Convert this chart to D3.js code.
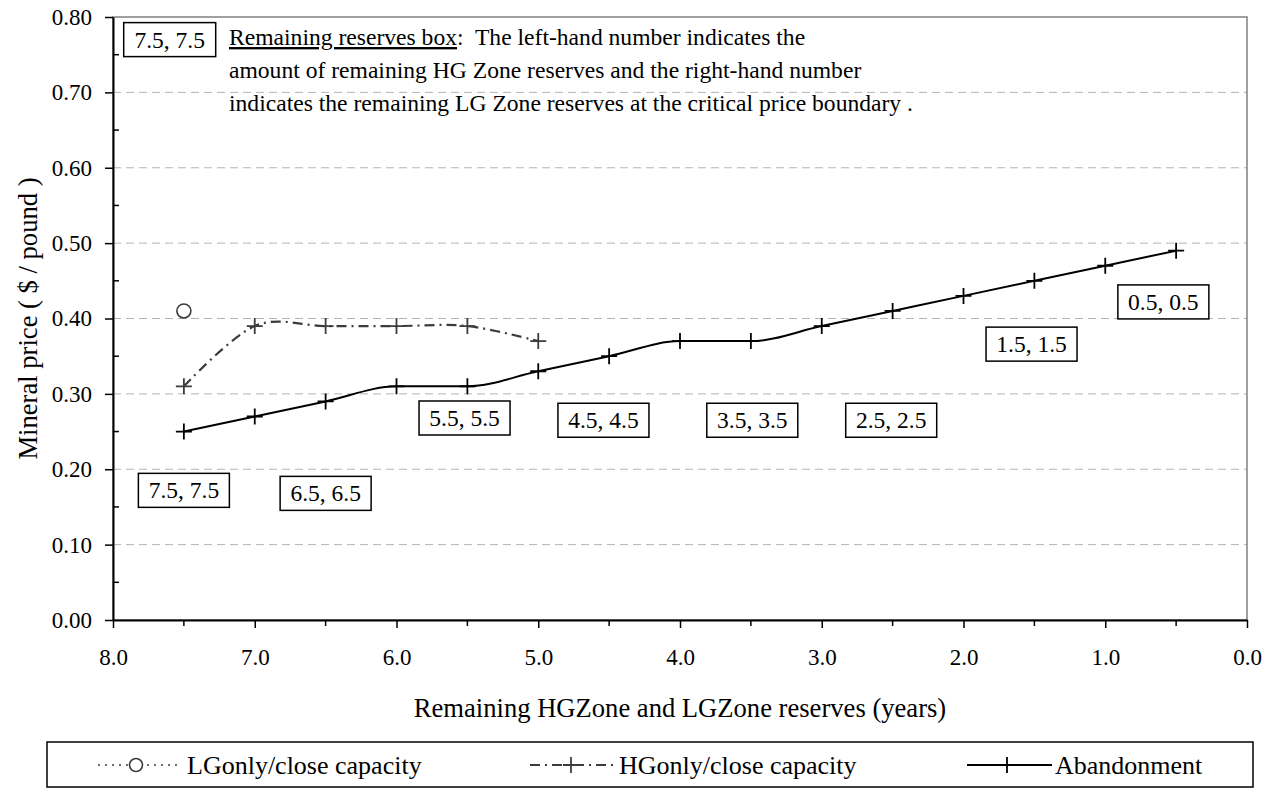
<!DOCTYPE html>
<html>
<head>
<meta charset="utf-8">
<script src="https://cdn.jsdelivr.net/npm/d3@7"></script>
<style>
  body { margin: 0; background: #fff; }
  svg text { font-family: "Liberation Serif", "Tinos", "Times New Roman", Times, "Nimbus Roman", "DejaVu Serif", serif; }
</style>
</head>
<body>
<div id="chart"></div>
<script>
// ---- data ----
const abandonX = [7.5, 7.0, 6.5, 6.0, 5.5, 5.0, 4.5, 4.0, 3.5, 3.0, 2.5, 2.0, 1.5, 1.0, 0.5];
const abandonY = [0.25, 0.27, 0.29, 0.31, 0.31, 0.33, 0.35, 0.37, 0.37, 0.39, 0.41, 0.43, 0.45, 0.47, 0.49];

const hgX = [7.5, 7.0, 6.5, 6.0, 5.5, 5.0];
const hgY = [0.31, 0.39, 0.39, 0.39, 0.39, 0.37];

const lgX = [7.5];
const lgY = [0.41];

// remaining reserves boxes (HG, LG) and where they sit in data space
const boxText = ["7.5, 7.5", "6.5, 6.5", "5.5, 5.5", "4.5, 4.5", "3.5, 3.5", "2.5, 2.5", "1.5, 1.5", "0.5, 0.5"];
const boxX = [7.5, 6.5, 5.52, 4.54, 3.49, 2.51, 1.52, 0.59];
const boxY = [0.172, 0.168, 0.268, 0.265, 0.265, 0.265, 0.366, 0.422];

const xTicks = [8, 7, 6, 5, 4, 3, 2, 1, 0];
const xMinor = [7.5, 6.5, 5.5, 4.5, 3.5, 2.5, 1.5, 0.5];
const yTicks = [0, 0.1, 0.2, 0.3, 0.4, 0.5, 0.6, 0.7, 0.8];
const yMinor = [0.05, 0.15, 0.25, 0.35, 0.45, 0.55, 0.65, 0.75];

const noteLines = [
  "The left-hand number indicates the",
  "amount of remaining HG Zone reserves and the right-hand number",
  "indicates the remaining LG Zone reserves at the critical price boundary ."
];

const seriesNames = ["LGonly/close capacity", "HGonly/close capacity", "Abandonment"];

// ---- layout ----
const FONT = "'Liberation Serif', Tinos, 'Times New Roman', Times, 'DejaVu Serif', serif";
const width = 1273, height = 789;
const pLeft = 113, pRight = 1247, pTop = 17, pBottom = 620;

const svg = d3.select("#chart").append("svg")
  .attr("width", width)
  .attr("height", height)
  .attr("font-family", FONT);

const x = d3.scaleLinear().domain([8, 0]).range([pLeft, pRight]);
const y = d3.scaleLinear().domain([0, 0.8]).range([pBottom, pTop]);

// gridlines
svg.append("g")
  .selectAll("line")
  .data(yTicks.filter(d => d > 0 && d < 0.8))
  .enter().append("line")
  .attr("x1", pLeft).attr("x2", pRight)
  .attr("y1", d => y(d)).attr("y2", d => y(d))
  .attr("stroke", "#b4b4b4")
  .attr("stroke-width", 1)
  .attr("stroke-dasharray", "8,5");

// plot area border (grey top/right)
svg.append("rect")
  .attr("x", pLeft).attr("y", pTop)
  .attr("width", pRight - pLeft).attr("height", pBottom - pTop)
  .attr("fill", "none")
  .attr("stroke", "#808080")
  .attr("stroke-width", 1.5);

// axes
const yAxis = svg.append("g")
  .attr("transform", `translate(${pLeft},0)`)
  .call(d3.axisLeft(y).tickValues(yTicks).tickFormat(d3.format(".2f"))
    .tickSize(8).tickSizeOuter(0).tickPadding(13));

const xAxis = svg.append("g")
  .attr("transform", `translate(0,${pBottom})`)
  .call(d3.axisBottom(x).tickValues(xTicks).tickFormat(d3.format(".1f"))
    .tickSize(8).tickSizeOuter(0).tickPadding(21));

[yAxis, xAxis].forEach(g => {
  g.attr("font-family", FONT).attr("font-size", 23);
  g.select(".domain").attr("stroke", "#000").attr("stroke-width", 2);
  g.selectAll(".tick line").attr("stroke", "#000").attr("stroke-width", 1.5);
  g.selectAll(".tick text").attr("fill", "#000");
});

// minor ticks: y inside, x outside
svg.append("g").selectAll("line")
  .data(yMinor).enter().append("line")
  .attr("x1", pLeft).attr("x2", pLeft + 6)
  .attr("y1", d => y(d)).attr("y2", d => y(d))
  .attr("stroke", "#000").attr("stroke-width", 1.5);

svg.append("g").selectAll("line")
  .data(xMinor).enter().append("line")
  .attr("x1", d => x(d)).attr("x2", d => x(d))
  .attr("y1", pBottom).attr("y2", pBottom + 6)
  .attr("stroke", "#000").attr("stroke-width", 1.5);

// axis titles
svg.append("text")
  .attr("x", (pLeft + pRight) / 2)
  .attr("y", 717)
  .attr("text-anchor", "middle")
  .attr("font-size", 26.6)
  .text("Remaining HGZone and LGZone reserves (years)");

svg.append("text")
  .attr("transform", `translate(37,${(pTop + pBottom) / 2}) rotate(-90)`)
  .attr("text-anchor", "middle")
  .attr("font-size", 26.6)
  .text("Mineral price ( $ / pound )");

// lines
const abandon = abandonX.map((v, i) => [v, abandonY[i]]);
const hg = hgX.map((v, i) => [v, hgY[i]]);
const lg = lgX.map((v, i) => [v, lgY[i]]);

const hgLine = d3.line()
  .x(d => x(d[0]))
  .y(d => y(d[1]))
  .curve(d3.curveCardinal);

const abandonLine = d3.line()
  .x(d => x(d[0]))
  .y(d => y(d[1]))
  .curve(d3.curveMonotoneX);

svg.append("path")
  .datum(hg)
  .attr("d", hgLine)
  .attr("fill", "none")
  .attr("stroke", "#3c3c3c")
  .attr("stroke-width", 2.2)
  .attr("stroke-dasharray", "10,5,2,5");

svg.append("path")
  .datum(abandon)
  .attr("d", abandonLine)
  .attr("fill", "none")
  .attr("stroke", "#000")
  .attr("stroke-width", 2);

function plus(g, cx, cy, color) {
  g.append("path")
    .attr("d", `M${cx - 8},${cy}H${cx + 8}M${cx},${cy - 8}V${cy + 8}`)
    .attr("stroke", color)
    .attr("stroke-width", 1.8)
    .attr("fill", "none");
}

const marks = svg.append("g");
hg.forEach(d => plus(marks, x(d[0]), y(d[1]), "#3c3c3c"));
abandon.forEach(d => plus(marks, x(d[0]), y(d[1]), "#000"));

svg.append("g").selectAll("circle")
  .data(lg).enter().append("circle")
  .attr("cx", d => x(d[0]))
  .attr("cy", d => y(d[1]))
  .attr("r", 7)
  .attr("fill", "none")
  .attr("stroke", "#3c3c3c")
  .attr("stroke-width", 1.6);

// remaining reserves boxes
const boxW = 91, boxH = 34;
const boxes = svg.append("g");
boxText.forEach((t, i) => {
  const cx = x(boxX[i]), cy = y(boxY[i]);
  boxes.append("rect")
    .attr("x", cx - boxW / 2).attr("y", cy - boxH / 2)
    .attr("width", boxW).attr("height", boxH)
    .attr("fill", "#fff").attr("stroke", "#000").attr("stroke-width", 1.5);
  boxes.append("text")
    .attr("x", cx).attr("y", cy + 8)
    .attr("text-anchor", "middle")
    .attr("font-size", 23.5)
    .text(t);
});

// explanatory note
const keyX = 7.6, keyY = 0.77;
const kx = x(keyX), ky = y(keyY);
svg.append("rect")
  .attr("x", kx - 46).attr("y", ky - 17)
  .attr("width", 92).attr("height", 34)
  .attr("fill", "#fff").attr("stroke", "#000").attr("stroke-width", 1.5);
svg.append("text")
  .attr("x", kx).attr("y", ky + 8)
  .attr("text-anchor", "middle")
  .attr("font-size", 23.5)
  .text("7.5, 7.5");

const note = svg.append("text")
  .attr("x", 229).attr("y", 45)
  .attr("font-size", 23.6);
note.append("tspan")
  .attr("text-decoration", "underline")
  .text("Remaining reserves box");
note.append("tspan").text(":\u00a0 " + noteLines[0]);
noteLines.slice(1).forEach((t, i) => {
  svg.append("text")
    .attr("x", 229).attr("y", 78 + i * 32.5)
    .attr("font-size", 23.6)
    .text(t);
});

// legend
const lgd = svg.append("g");
lgd.append("rect")
  .attr("x", 47).attr("y", 742)
  .attr("width", 1206).attr("height", 45)
  .attr("fill", "#fff").attr("stroke", "#000").attr("stroke-width", 1.5);

const ly = 765;
// LG
lgd.append("line").attr("x1", 98).attr("x2", 180).attr("y1", ly).attr("y2", ly)
  .attr("stroke", "#3c3c3c").attr("stroke-width", 1.6).attr("stroke-dasharray", "2,5");
lgd.append("circle").attr("cx", 136).attr("cy", ly).attr("r", 6.5)
  .attr("fill", "#fff").attr("stroke", "#3c3c3c").attr("stroke-width", 1.6);
// HG
lgd.append("line").attr("x1", 530).attr("x2", 615).attr("y1", ly).attr("y2", ly)
  .attr("stroke", "#3c3c3c").attr("stroke-width", 1.8).attr("stroke-dasharray", "10,5,2,5");
plus(lgd, 571, ly, "#3c3c3c");
// Abandonment
lgd.append("line").attr("x1", 967).attr("x2", 1052).attr("y1", ly).attr("y2", ly)
  .attr("stroke", "#000").attr("stroke-width", 2);
plus(lgd, 1007, ly, "#000");

const legendTextX = [187, 619, 1055];
seriesNames.forEach((t, i) => {
  lgd.append("text")
    .attr("x", legendTextX[i]).attr("y", ly + 9)
    .attr("font-size", 26)
    .text(t);
});
</script>
</body>
</html>
